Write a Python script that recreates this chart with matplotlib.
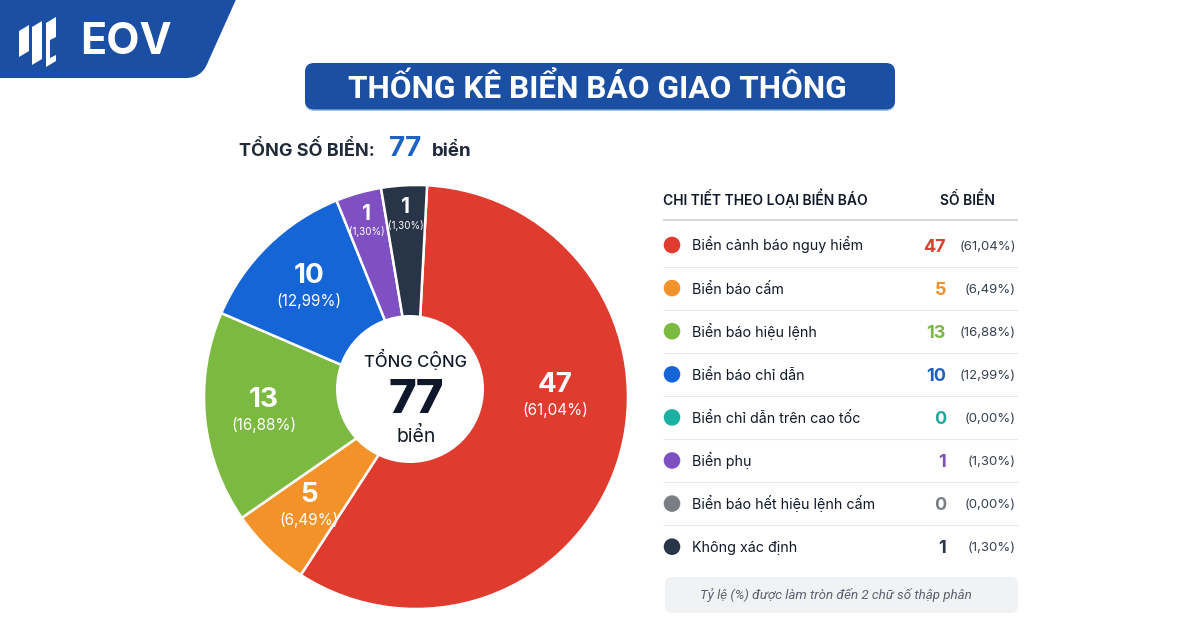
import matplotlib
matplotlib.use("Agg")
import numpy as np
import matplotlib.pyplot as plt
from matplotlib.patches import FancyBboxPatch, Circle, Polygon, PathPatch
from matplotlib.path import Path

# ---------------- data ----------------
title = "THỐNG KÊ BIỂN BÁO GIAO THÔNG"
categories = ["Biển cảnh báo nguy hiểm", "Biển báo cấm", "Biển báo hiệu lệnh",
              "Biển báo chỉ dẫn", "Biển chỉ dẫn trên cao tốc", "Biển phụ",
              "Biển báo hết hiệu lệnh cấm", "Không xác định"]
counts = [47, 5, 13, 10, 0, 1, 0, 1]
slice_colors = ["#e03b2f", "#f4922a", "#7cb940", "#1565d6",
                "#1bb1a2", "#7e50c2", "#7a7e85", "#283548"]
number_colors = ["#d9402f", "#f0902a", "#7ab648", "#1f5fbf",
                 "#1aa99a", "#7d52b8", "#7a7e85", "#2b3445"]
table_header = ["CHI TIẾT THEO LOẠI BIỂN BÁO", "SỐ BIỂN"]
footnote = "Tỷ lệ (%) được làm tròn đến 2 chữ số thập phân"
unit = "biển"

total = sum(counts)
pcts = [c / total * 100 for c in counts]
pct_txt = ["(" + f"{p:.2f}".replace(".", ",") + "%)" for p in pcts]

# minimum visible slice size (in counts) so tiny slices stay readable
MIN_SLICE = 2.8

W, H = 1200, 630
FONT = ["Inter", "DejaVu Sans"]
DARK = "#111827"


def Y(y):
    return H - y


fig = plt.figure(figsize=(12, 6.3), dpi=100)
fig.patch.set_facecolor("white")
ax = fig.add_axes([0, 0, 1, 1])

# ---------------- pie ----------------
pie_idx = [i for i, c in enumerate(counts) if c > 0]
disp = [max(counts[i], MIN_SLICE) for i in pie_idx]
cx, cy, R = 416, Y(397), 212
wedges, _ = ax.pie(disp, colors=[slice_colors[i] for i in pie_idx],
                   startangle=87, counterclock=False, center=(cx, cy), radius=R,
                   wedgeprops=dict(edgecolor="white", linewidth=1.8))
ax.add_patch(Circle((410, Y(389)), 74, fc="white", ec="none", zorder=3))

for w, i in zip(wedges, pie_idx):
    t1, t2 = w.theta1, w.theta2
    if t2 - t1 > 180:
        # large slice: put label on the horizontal through the centre if possible
        a = 0.0 if (t1 <= 0 <= t2 or t1 <= 360 <= t2) else (t1 + t2) / 2
    else:
        a = (t1 + t2) / 2
    mid = np.deg2rad(a)
    small = pcts[i] < 5
    r = 182 if small else (139 if t2 - t1 > 180 else 153)
    lx, ly = cx + r * np.cos(mid), cy + r * np.sin(mid)
    if small:
        ax.text(lx, ly + 8, str(counts[i]), color="white", fontsize=15, weight="bold",
                family=FONT, ha="center", va="center", zorder=4)
        ax.text(lx, ly - 10, pct_txt[i], color="white", fontsize=7, family=FONT,
                ha="center", va="center", zorder=4)
    else:
        ax.text(lx, ly + 12, str(counts[i]), color="white", fontsize=20, weight="bold",
                family=FONT, ha="center", va="center", zorder=4)
        ax.text(lx, ly - 13, pct_txt[i], color="white", fontsize=11, family=FONT,
                ha="center", va="center", zorder=4)

# centre text
ax.text(416, Y(367), "TỔNG CỘNG", fontsize=12, color=DARK, family=FONT, weight="medium",
        ha="center", va="baseline", zorder=4)
ax.text(416, Y(413), str(total), fontsize=34, color="#0f172a", family=FONT, weight="heavy",
        ha="center", va="baseline", zorder=4)
ax.text(416, Y(442), unit, fontsize=14, color=DARK, family=FONT,
        ha="center", va="baseline", zorder=4)

# ---------------- logo ----------------
verts = [(0, Y(-5)), (238, Y(-5)), (208, Y(62)), (202, Y(78)), (186, Y(78)), (0, Y(78)), (0, Y(-5))]
codes = [Path.MOVETO, Path.LINETO, Path.LINETO, Path.CURVE3, Path.CURVE3, Path.LINETO, Path.CLOSEPOLY]
ax.add_patch(PathPatch(Path(verts, codes), fc="#1b4fa3", ec="none", zorder=5))
for x0, y0, h in [(19, 31, 26), (32, 27, 38), (46, 23, 44)]:
    wdt, s = 10, 6
    pts = [(x0, Y(y0 + h)), (x0, Y(y0)), (x0 + wdt, Y(y0 - s)), (x0 + wdt, Y(y0 + h - s))]
    ax.add_patch(Polygon(pts, closed=True, fc="white", ec="none", zorder=6))
ax.add_patch(Polygon([(50, Y(40)), (56, Y(37)), (56, Y(55)), (50, Y(58))], closed=True,
                     fc="#1b4fa3", ec="none", zorder=7))
ax.text(80, Y(54), "EOV", color="white", fontsize=31, weight="bold", family=FONT,
        ha="left", va="baseline", zorder=6)

# ---------------- title banner ----------------
ax.add_patch(FancyBboxPatch((305, Y(111)), 590, 47, boxstyle="round,pad=0,rounding_size=9",
                            fc="#a9c4ec", ec="none", zorder=5))
ax.add_patch(FancyBboxPatch((305, Y(109.5)), 590, 46.5, boxstyle="round,pad=0,rounding_size=9",
                            fc="#1b4fa3", ec="none", zorder=6))
ax.text(597, Y(98), title, color="white", fontsize=22.8, weight="bold",
        family=["Roboto", "DejaVu Sans"], ha="center", va="baseline", zorder=7)

# total line
ax.text(239, Y(156), "TỔNG SỐ BIỂN:", fontsize=13, weight="bold", color="#1f2937",
        family=FONT, ha="left", va="baseline")
ax.text(389, Y(156), str(total), fontsize=20, weight="bold", color="#1d62c5",
        family=FONT, ha="left", va="baseline")
ax.text(432, Y(156), unit, fontsize=13.5, weight="bold", color="#1f2937",
        family=FONT, ha="left", va="baseline")

# ---------------- table ----------------
x0t, x1t = 663, 1018
ax.text(x0t, Y(205), table_header[0], fontsize=10, weight="semibold", color=DARK,
        family=FONT, ha="left", va="baseline")
ax.text(967, Y(205), table_header[1], fontsize=10, weight="semibold", color=DARK,
        family=FONT, ha="center", va="baseline")
ax.plot([x0t, x1t], [Y(220), Y(220)], color="#d5d9de", lw=1.5, solid_capstyle="butt")

row0, step = 245, 43.1
for i, name in enumerate(categories):
    yc = row0 + i * step
    ax.add_patch(Circle((672, Y(yc)), 8.3, fc=slice_colors[i], ec="none"))
    ax.text(692, Y(yc + 5.4), name, fontsize=10.3, color="#111827", family=FONT,
            ha="left", va="baseline")
    ax.text(946, Y(yc + 6.5), str(counts[i]), fontsize=13, weight="bold",
            color=number_colors[i], family=FONT, ha="right", va="baseline")
    ax.text(1016, Y(yc + 4.5), pct_txt[i], fontsize=9.5, color="#374151", family=FONT,
            ha="right", va="baseline")
    if i < len(categories) - 1:
        ys = yc + step / 2
        ax.plot([x0t, x1t], [Y(ys), Y(ys)], color="#e6e8eb", lw=0.8, solid_capstyle="butt")

# footnote box
ax.add_patch(FancyBboxPatch((665, Y(613)), 353, 36, boxstyle="round,pad=0,rounding_size=7",
                            fc="#f1f2f4", ec="none"))
ax.text(836, Y(599), footnote, fontsize=9.6, style="italic", color="#5b6270",
        family=["Roboto", "DejaVu Sans"], ha="center", va="baseline")

ax.set_xlim(0, W)
ax.set_ylim(0, H)
ax.set_aspect("equal")
ax.axis("off")

fig.savefig("out.png", dpi=100, facecolor="white")
